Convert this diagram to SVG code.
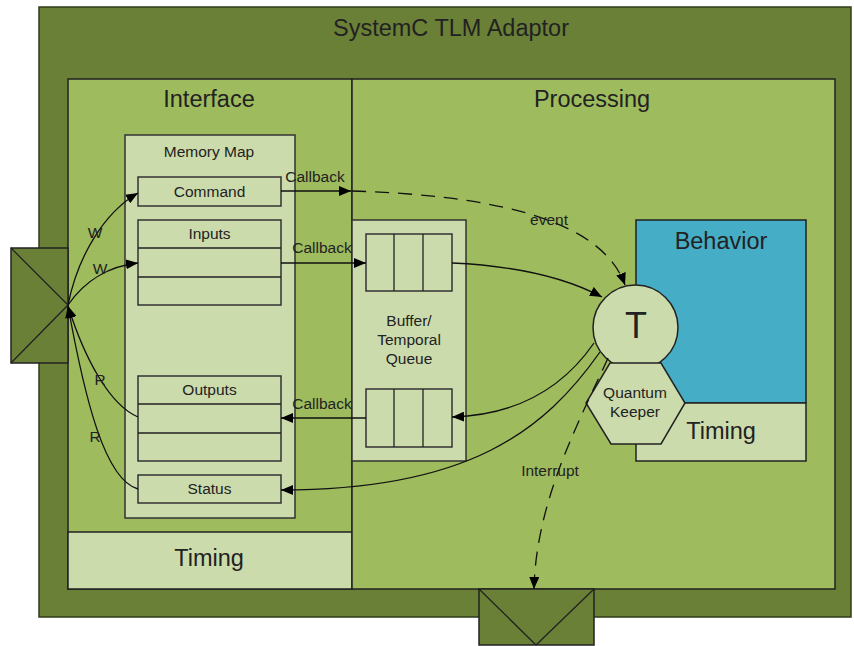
<svg xmlns="http://www.w3.org/2000/svg" width="854" height="646" viewBox="0 0 854 646">
<defs>
<style>
.dk{fill:#6a8036;stroke:#2f3a1a;stroke-width:1.5}
.md{fill:#9ebb5e;stroke:#222;stroke-width:1.5}
.pl{fill:#ccdbac;stroke:#333;stroke-width:1.5}
.bl{fill:#46adc6;stroke:#222;stroke-width:1.5}
.ln{fill:none;stroke:#222;stroke-width:1.3}
.cn{fill:none;stroke:#111;stroke-width:1.3}
.ds{stroke-dasharray:14,9}
text{font-family:"Liberation Sans",Arial,sans-serif;fill:#222;text-anchor:middle}
.big{font-size:23.5px}
.sm{font-size:15.5px}
</style>
<marker id="ah" viewBox="0 0 12 10" refX="12" refY="5" markerWidth="12" markerHeight="10" markerUnits="userSpaceOnUse" orient="auto">
<path d="M0,0 L12,5 L0,10 Z" fill="#000"/>
</marker>
</defs>

<g id="adaptor">
<rect class="dk" x="39" y="7" width="812" height="610"/>
<text class="big" x="451" y="36">SystemC TLM Adaptor</text>
</g>

<g id="interface">
<rect class="md" x="68" y="79" width="284" height="510"/>
<text class="big" x="209" y="107">Interface</text>
</g>
<g id="interface-timing">
<rect class="pl" x="68" y="532" width="284" height="57" style="stroke:#222"/>
<text class="big" x="209" y="566">Timing</text>
</g>

<g id="processing">
<rect class="md" x="352" y="79" width="483" height="510"/>
<text class="big" x="592" y="107">Processing</text>
</g>

<g id="memory-map">
<rect class="pl" x="125" y="135" width="170" height="383"/>
<text class="sm" x="209" y="157">Memory Map</text>
</g>
<g id="command">
<rect class="pl" x="138" y="177" width="143" height="29"/>
<text class="sm" x="209.5" y="197">Command</text>
</g>
<g id="inputs">
<rect class="pl" x="138" y="220" width="143" height="85"/>
<line class="ln" x1="138" y1="248" x2="281" y2="248"/>
<line class="ln" x1="138" y1="277" x2="281" y2="277"/>
<text class="sm" x="209.5" y="239">Inputs</text>
</g>
<g id="outputs">
<rect class="pl" x="138" y="376" width="143" height="85"/>
<line class="ln" x1="138" y1="404" x2="281" y2="404"/>
<line class="ln" x1="138" y1="433" x2="281" y2="433"/>
<text class="sm" x="209.5" y="395">Outputs</text>
</g>
<g id="status">
<rect class="pl" x="138" y="475" width="143" height="28"/>
<text class="sm" x="209.5" y="494">Status</text>
</g>

<g id="buffer">
<rect class="pl" x="352" y="220" width="114" height="241"/>
<text class="sm" x="409" y="326">Buffer/</text>
<text class="sm" x="409" y="345">Temporal</text>
<text class="sm" x="409" y="364">Queue</text>
</g>
<g id="queue-in">
<rect class="pl" x="366" y="234" width="86" height="57"/>
<line class="ln" x1="394" y1="234" x2="394" y2="291"/>
<line class="ln" x1="423" y1="234" x2="423" y2="291"/>
</g>
<g id="queue-out">
<rect class="pl" x="366" y="389" width="86" height="58"/>
<line class="ln" x1="394" y1="389" x2="394" y2="447"/>
<line class="ln" x1="423" y1="389" x2="423" y2="447"/>
</g>

<g id="behavior">
<rect class="bl" x="636" y="220" width="170" height="183"/>
<text class="big" x="721" y="249">Behavior</text>
</g>
<g id="behavior-timing">
<rect class="pl" x="636" y="403" width="170" height="58" style="stroke:#222"/>
<text class="big" x="721" y="439">Timing</text>
</g>
<g id="t-node">
<circle class="pl" cx="635.5" cy="327.5" r="42.5" style="stroke:#222"/>
<text x="636" y="338" style="font-size:36px">T</text>
</g>
<g id="quantum-keeper">
<polygon class="pl" points="610,363 661,363 685,403 661,444 611,444 586,403" style="stroke:#222"/>
<text class="sm" x="635" y="398">Quantum</text>
<text class="sm" x="635" y="417">Keeper</text>
</g>

<g id="port-left">
<rect class="dk" x="11" y="248" width="57" height="115" style="stroke:#222"/>
<line class="ln" x1="11" y1="248" x2="68" y2="305"/>
<line class="ln" x1="11" y1="363" x2="68" y2="305"/>
</g>
<g id="port-bottom">
<rect class="dk" x="479" y="589" width="115" height="56" style="stroke:#222"/>
<line class="ln" x1="479" y1="589" x2="536" y2="645"/>
<line class="ln" x1="594" y1="589" x2="536" y2="645"/>
</g>

<g id="connectors">
<path class="cn" d="M68,305 C78,255 105,212 138,193" marker-end="url(#ah)"/>
<path class="cn" d="M68,305 C85,280 110,266 138,263" marker-end="url(#ah)"/>
<path class="cn" d="M138,417 C110,405 85,360 68,306" marker-end="url(#ah)"/>
<path class="cn" d="M138,489 C105,480 85,400 68,306" marker-end="url(#ah)"/>
<path class="cn" d="M281,191 L351,191" marker-end="url(#ah)"/>
<path class="cn ds" d="M352,191 C480,195 600,215 625,285" marker-end="url(#ah)"/>
<path class="cn" d="M281,263 L366,263" marker-end="url(#ah)"/>
<path class="cn" d="M452,263 C520,266 570,280 602,297" marker-end="url(#ah)"/>
<path class="cn" d="M594,343 C565,385 520,415 452,417" marker-end="url(#ah)"/>
<path class="cn" d="M366,418 L281,418" marker-end="url(#ah)"/>
<path class="cn" d="M600,352 C545,430 470,490 281,490" marker-end="url(#ah)"/>
<path class="cn ds" d="M608,358 C580,420 536,500 534,589" marker-end="url(#ah)"/>
<text class="sm" x="95" y="238">W</text>
<text class="sm" x="100" y="274">W</text>
<text class="sm" x="100" y="385">R</text>
<text class="sm" x="95" y="442">R</text>
<text class="sm" x="315" y="182">Callback</text>
<text class="sm" x="322" y="253">Callback</text>
<text class="sm" x="322" y="409">Callback</text>
<text class="sm" x="549" y="225">event</text>
<text class="sm" x="550" y="476">Interrupt</text>
</g>
</svg>
